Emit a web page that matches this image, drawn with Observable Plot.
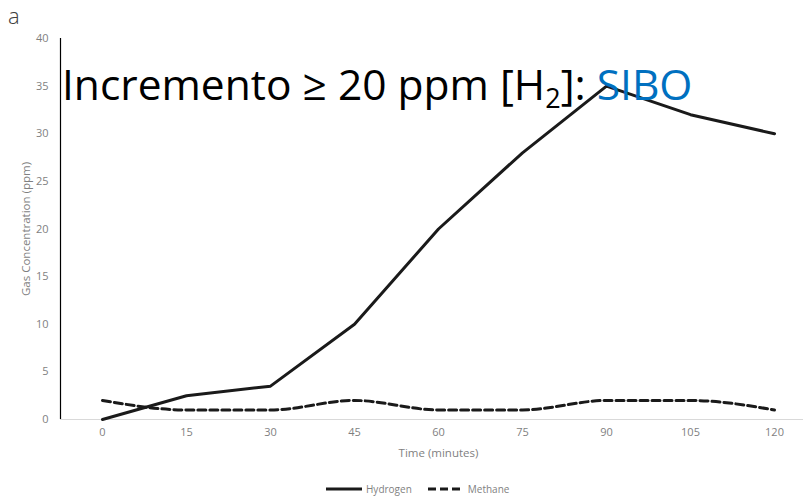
<!DOCTYPE html>
<html>
<head>
<meta charset="utf-8">
<script src="https://cdn.jsdelivr.net/npm/d3@7"></script>
<script src="https://cdn.jsdelivr.net/npm/@observablehq/plot@0.6"></script>
<style>
  html, body { margin: 0; padding: 0; background: #fff; overflow: hidden; }
  #wrap { position: relative; width: 803px; height: 496px; overflow: hidden; font-family: "Open Sans", "Liberation Sans", sans-serif; }
  #chart { position: absolute; left: 0; top: 28px; width: 816px; }
  #chart svg { max-width: none !important; display: block; }
  #overlay { position: absolute; left: 0; top: 0; }
  #legend { position: absolute; left: 326px; top: 482px; display: flex; align-items: center; font-size: 10px; color: #7f7f7f; }
  #legend .item { display: flex; align-items: center; margin-right: 16px; }
  #legend svg { margin-right: 4px; }
</style>
</head>
<body>
<div id="wrap">
  <div id="chart"></div>
  <div id="legend"></div>
</div>
<script>
const times = [0, 15, 30, 45, 60, 75, 90, 105, 120];
const hydrogen = [0, 2.5, 3.5, 10, 20, 28, 35, 32, 30];
const methane = [2, 1, 1, 2, 1, 1, 2, 2, 1];
const seriesNames = ["Hydrogen", "Methane"];
const yTicks = [0, 5, 10, 15, 20, 25, 30, 35, 40];
const xLabel = "Time (minutes)";
const yLabel = "Gas Concentration (ppm)";
const panelLabel = "a";

const hData = times.map((t, i) => ({t, v: hydrogen[i]}));
const mData = times.map((t, i) => ({t, v: methane[i]}));

const chart = Plot.plot({
  width: 816,
  height: 440,
  marginTop: 10,
  marginLeft: 60,
  marginRight: 0,
  marginBottom: 49,
  style: { fontFamily: "'Open Sans', 'Liberation Sans', sans-serif", fontSize: "11px", color: "#7f7f7f", background: "transparent", maxWidth: "none" },
  x: { domain: [-7.5, 127.5], ticks: times, tickSize: 0, tickPadding: 9, label: xLabel, labelAnchor: "center", labelOffset: 37, labelArrow: "none" },
  y: { domain: [0, 40], ticks: yTicks, tickSize: 0, tickPadding: 12, label: yLabel, labelAnchor: "center", labelOffset: 39, labelArrow: "none" },
  marks: [
    Plot.ruleY([0], { stroke: "#d9d9d9", strokeWidth: 1 }),
    Plot.ruleX([-7.5], { stroke: "#000", strokeWidth: 1.2 }),
    Plot.line(mData, { x: "t", y: "v", stroke: "#1a1a1a", strokeWidth: 3, strokeDasharray: "8,4", curve: "monotone-x" }),
    Plot.line(hData, { x: "t", y: "v", stroke: "#1a1a1a", strokeWidth: 3, curve: "linear" })
  ]
});
chart.querySelectorAll("g[aria-label='x-axis label'] text, g[aria-label='y-axis label'] text").forEach(el => el.setAttribute("font-size", "11.5"));
document.getElementById("chart").appendChild(chart);

// Annotation overlay
const ns = "http://www.w3.org/2000/svg";
const ov = document.createElementNS(ns, "svg");
ov.setAttribute("id", "overlay");
ov.setAttribute("width", 803);
ov.setAttribute("height", 130);
const pa = document.createElementNS(ns, "text");
pa.setAttribute("x", 8); pa.setAttribute("y", 24);
pa.setAttribute("font-family", "'Open Sans', sans-serif");
pa.setAttribute("font-weight", 300);
pa.setAttribute("font-size", 22);
pa.setAttribute("fill", "#404040");
pa.textContent = panelLabel;
ov.appendChild(pa);
const txt = document.createElementNS(ns, "text");
txt.setAttribute("x", 62);
txt.setAttribute("y", 100);
txt.setAttribute("font-family", "'Liberation Sans Narrow', 'Open Sans', sans-serif");
txt.setAttribute("font-size", 42.5);
txt.setAttribute("fill", "#000");
const t1 = document.createElementNS(ns, "tspan"); t1.textContent = "Incremento \u2265 20 ppm [H";
const t2 = document.createElementNS(ns, "tspan"); t2.textContent = "2"; t2.setAttribute("font-size", 27); t2.setAttribute("dy", 8);
const t3 = document.createElementNS(ns, "tspan"); t3.textContent = "]: "; t3.setAttribute("dy", -8);
const t4 = document.createElementNS(ns, "tspan"); t4.textContent = "SIBO"; t4.setAttribute("fill", "#0070C0");
txt.append(t1, t2, t3, t4);
ov.appendChild(txt);
document.getElementById("wrap").appendChild(ov);

// Legend
const legend = document.getElementById("legend");
seriesNames.forEach((name, i) => {
  const item = document.createElement("div");
  item.className = "item";
  const s = document.createElementNS(ns, "svg");
  s.setAttribute("width", 36); s.setAttribute("height", 8);
  const l = document.createElementNS(ns, "line");
  l.setAttribute("x1", 0); l.setAttribute("x2", 36); l.setAttribute("y1", 4); l.setAttribute("y2", 4);
  l.setAttribute("stroke", "#1a1a1a"); l.setAttribute("stroke-width", 3);
  if (i === 1) l.setAttribute("stroke-dasharray", "8,4");
  s.appendChild(l);
  const sp = document.createElement("span"); sp.textContent = name;
  item.append(s, sp);
  legend.appendChild(item);
});
</script>
</body>
</html>
